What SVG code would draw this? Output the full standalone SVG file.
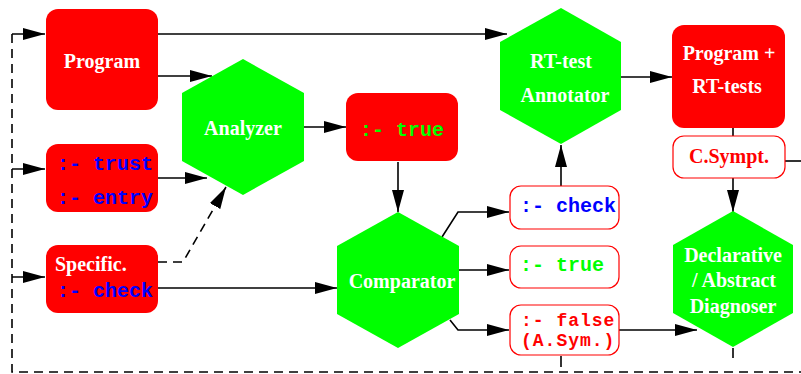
<svg xmlns="http://www.w3.org/2000/svg" width="801" height="374" viewBox="0 0 801 374">
<style>
.rbox{fill:#ff0000;stroke:none}
.wbox{fill:#ffffff;stroke:#ff0000;stroke-width:1.2}
.hex{fill:#00ff00;stroke:none}
.lbl{font-family:"Liberation Serif","Times New Roman",serif;font-weight:bold;font-size:20px;fill:#ffffff}
.mono{font-family:"Liberation Mono","Courier New",monospace;font-weight:bold;font-size:20px}
.small{font-size:18px;letter-spacing:1px}
.blue{fill:#0000ff}.green{fill:#00ff00}.red{fill:#ff0000}
.ln{fill:none;stroke:#000;stroke-width:1.6}
.dash{stroke-dasharray:9,6}
</style>
<defs>
<marker id="ah" viewBox="0 0 22 12" refX="22" refY="6" markerWidth="22" markerHeight="12" markerUnits="userSpaceOnUse" orient="auto">
<path d="M0,0 L22,6 L0,12 z" fill="#000"/>
</marker>
</defs>
<g id="connectors">
<path class="ln dash" d="M12,34 V372 H801"/>
<path class="ln" d="M12,34 H45" marker-end="url(#ah)"/>
<path class="ln" d="M12,169 H45" marker-end="url(#ah)"/>
<path class="ln" d="M12,277 H45" marker-end="url(#ah)"/>
<path class="ln" d="M158,34 H507" marker-end="url(#ah)"/>
<path class="ln" d="M158,76 H212" marker-end="url(#ah)"/>
<path class="ln" d="M158,178 H207" marker-end="url(#ah)"/>
<path class="ln dash" d="M158,262 H183 L226,187" marker-end="url(#ah)"/>
<path class="ln" d="M158,288 H337" marker-end="url(#ah)"/>
<path class="ln" d="M304,127 H346" marker-end="url(#ah)"/>
<path class="ln" d="M398,162 V212" marker-end="url(#ah)"/>
<path class="ln" d="M442,237 L458,212 H509" marker-end="url(#ah)"/>
<path class="ln" d="M459,270 H509" marker-end="url(#ah)"/>
<path class="ln" d="M450,320 L458,330 H509" marker-end="url(#ah)"/>
<path class="ln" d="M561,186 V145" marker-end="url(#ah)"/>
<path class="ln" d="M621,77 H672" marker-end="url(#ah)"/>
<path class="ln" d="M733,128 V136"/>
<path class="ln" d="M733,178 V212" marker-end="url(#ah)"/>
<path class="ln" d="M785,161 H801"/>
<path class="ln" d="M619,330 H697" marker-end="url(#ah)"/>
<path class="ln" d="M733,348 V358"/>
<path class="ln" d="M561,356 V367"/>
</g>
<g id="program">
<rect class="rbox" x="46" y="9" width="112" height="101" rx="12"/>
<text class="lbl" x="102" y="68" text-anchor="middle">Program</text>
</g>
<g id="trust-entry">
<rect class="rbox" x="46" y="144" width="112" height="68" rx="12"/>
<text class="mono blue" x="57" y="170">:- trust</text>
<text class="mono blue" x="57" y="204">:- entry</text>
</g>
<g id="specific">
<rect class="rbox" x="46" y="245" width="112" height="68" rx="12"/>
<text class="lbl" x="55" y="271">Specific.</text>
<text class="mono blue" x="57" y="297">:- check</text>
</g>
<g id="analyzer">
<polygon class="hex" points="243,59 304,93 304,161 243,195 182,161 182,93"/>
<text class="lbl" x="243" y="135" text-anchor="middle">Analyzer</text>
</g>
<g id="true-red">
<rect class="rbox" x="346" y="93" width="112" height="68" rx="12"/>
<text class="mono green" x="402" y="136" text-anchor="middle">:- true</text>
</g>
<g id="comparator">
<polygon class="hex" points="398,212 459,246 459,314 398,348 337,314 337,246"/>
<text class="lbl" x="402" y="288" text-anchor="middle">Comparator</text>
</g>
<g id="check-out">
<rect class="wbox" x="510" y="186" width="109" height="43" rx="11"/>
<text class="mono blue" x="520" y="212">:- check</text>
</g>
<g id="true-out">
<rect class="wbox" x="510" y="246" width="109" height="42" rx="11"/>
<text class="mono green" x="520" y="271">:- true</text>
</g>
<g id="false-out">
<rect class="wbox" x="510" y="305" width="109" height="50" rx="11"/>
<text class="mono small red" x="521" y="326">:- false</text>
<text class="mono small red" x="521" y="346">(A.Sym.)</text>
</g>
<g id="rt-annotator">
<polygon class="hex" points="561,8 621,42 621,110 561,144 500,110 500,42"/>
<text class="lbl" x="561" y="68" text-anchor="middle">RT-test</text>
<text class="lbl" x="565" y="102" text-anchor="middle">Annotator</text>
</g>
<g id="program-rt">
<rect class="rbox" x="672" y="25" width="113" height="103" rx="12"/>
<text class="lbl" x="729" y="60" text-anchor="middle">Program +</text>
<text class="lbl" x="727" y="93" text-anchor="middle">RT-tests</text>
</g>
<g id="csympt">
<rect class="wbox" x="673" y="136" width="112" height="42" rx="11"/>
<text class="lbl red" x="729" y="163" text-anchor="middle">C.Sympt.</text>
</g>
<g id="diagnoser">
<polygon class="hex" points="733,211 793,245 793,313 733,347 673,313 673,245"/>
<text class="lbl" x="733" y="262" text-anchor="middle">Declarative</text>
<text class="lbl" x="734" y="287" text-anchor="middle">/ Abstract</text>
<text class="lbl" x="733" y="313" text-anchor="middle">Diagnoser</text>
</g>
</svg>
